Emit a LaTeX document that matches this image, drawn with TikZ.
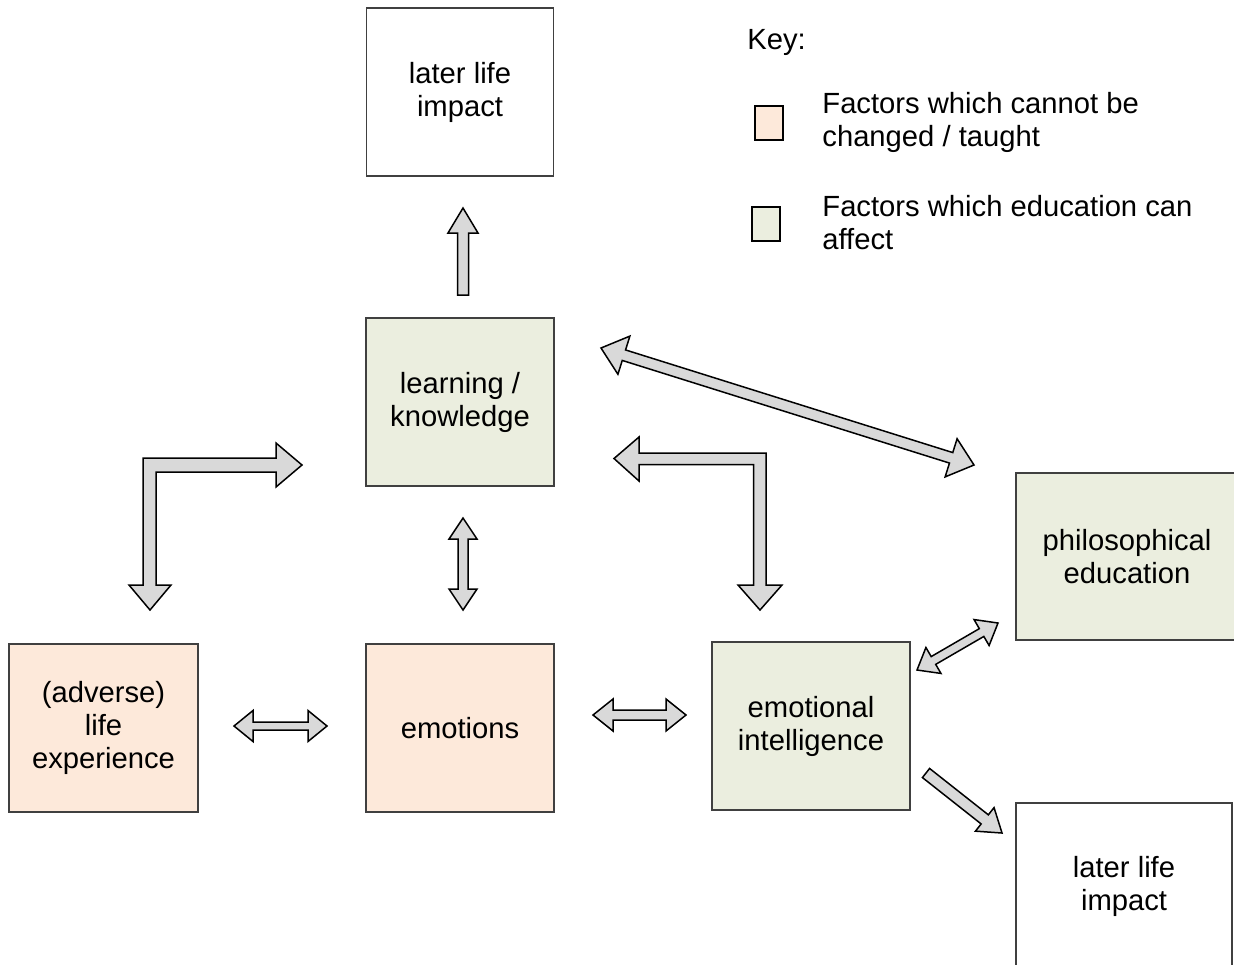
\documentclass[tikz,border=0pt]{standalone}
\usepackage{fontspec}
\setmainfont{Liberation Sans}
\usepackage{tikz}
\usetikzlibrary{calc}

\definecolor{peach}{HTML}{FDE9DA}
\definecolor{sage}{HTML}{EBEEDF}
\definecolor{arrowgrey}{HTML}{D9D9D9}

\tikzset{
  box/.style={draw=black!75,line width=0.6pt,align=center,inner sep=0pt,
    font=\fontsize{14.6}{16.5}\selectfont},
  keytext/.style={anchor=west,align=left,inner sep=0pt,font=\fontsize{14.6}{16.5}\selectfont},
  keybox/.style={draw=black,line width=1pt,inner sep=0pt},
  blockarrow/.style={draw=black,fill=arrowgrey,line width=0.75pt,line join=miter}
}

% block arrows: tail, tip, head length, head half width, shaft half width
\newcommand\sglarrow[5]{%
  \draw[blockarrow] ($(#1)!#5!90:(#2)$) -- ($(#2)!#3!(#1)!#5!-90:(#1)$)
    -- ($(#2)!#3!(#1)!#4!-90:(#1)$) -- (#2) -- ($(#2)!#3!(#1)!#4!90:(#1)$)
    -- ($(#2)!#3!(#1)!#5!90:(#1)$) -- ($(#1)!#5!-90:(#2)$) -- cycle;}
\newcommand\dblarrow[5]{%
  \draw[blockarrow] (#1) -- ($(#1)!#3!(#2)!#4!90:(#2)$) -- ($(#1)!#3!(#2)!#5!90:(#2)$)
    -- ($(#2)!#3!(#1)!#5!-90:(#1)$) -- ($(#2)!#3!(#1)!#4!-90:(#1)$) -- (#2)
    -- ($(#2)!#3!(#1)!#4!90:(#1)$) -- ($(#2)!#3!(#1)!#5!90:(#1)$)
    -- ($(#1)!#3!(#2)!#5!-90:(#2)$) -- ($(#1)!#3!(#2)!#4!-90:(#2)$) -- cycle;}

\begin{document}
\begin{tikzpicture}[x=0.5pt,y=-0.5pt]
\useasboundingbox (0,0) rectangle (1234,964);

% boxes
\node[box,minimum width=93.5pt,minimum height=84pt] (impacttop) at (460,92) {later life\\impact};
\node[box,fill=sage,minimum width=94pt,minimum height=84pt] (learning) at (460,402) {learning /\\knowledge};
\node[box,fill=peach,minimum width=94.5pt,minimum height=84pt] (adverse) at (103.5,728) {(adverse)\\life\\experience};
\node[box,fill=peach,minimum width=94pt,minimum height=84pt] (emotions) at (460,728) {emotions};
\node[box,fill=sage,minimum width=99pt,minimum height=84pt] (emoint) at (811,726) {emotional\\intelligence};
\node[box,fill=sage,minimum width=111pt,minimum height=83.5pt] (philo) at (1127,556.5) {philosophical\\education};
\node[box,minimum width=108pt,minimum height=83pt] (impactlow) at (1124,886) {later life\\impact};

% key
\node[keytext] (key) at (747,42) {Key:};
\node[keybox,fill=peach,minimum width=14pt,minimum height=17pt] (keyfixed) at (769,123) {};
\node[keybox,fill=sage,minimum width=14pt,minimum height=17pt] (keyedu) at (766,224) {};
\node[keytext] (keyfixedtxt) at (822,122) {Factors which cannot be\\changed / taught};
\node[keytext] (keyedutxt) at (822,223) {Factors which education can\\affect};

% arrow ends
\coordinate (upA) at (463,295);
\coordinate (upB) at (463,208);
\coordinate (vA) at (463,518);
\coordinate (vB) at (463,610);
\coordinate (hlA) at (234,726);
\coordinate (hlB) at (327,726);
\coordinate (hrA) at (593,715);
\coordinate (hrB) at (686,715);
\coordinate (dlA) at (601,348);
\coordinate (dlB) at (974,465);
\coordinate (dsA) at (917,670);
\coordinate (dsB) at (998,623);
\coordinate (doA) at (926,773);
\coordinate (doB) at (1002,833);

\sglarrow{upA}{upB}{12.5pt}{7.5pt}{2.75pt}
\dblarrow{vA}{vB}{10.5pt}{7pt}{2.5pt}
\dblarrow{hlA}{hlB}{9.5pt}{7.75pt}{2pt}
\dblarrow{hrA}{hrB}{10pt}{8pt}{2.5pt}
\dblarrow{dlA}{dlB}{12pt}{10pt}{2.75pt}
\dblarrow{dsA}{dsB}{9.5pt}{7.5pt}{2.25pt}
\sglarrow{doA}{doB}{11pt}{7.5pt}{2.9pt}

% bent arrows
\draw[blockarrow] (143,458) -- (276,458) -- (276,443) -- (302,465) -- (276,487) -- (276,472)
  -- (156,472) -- (156,585) -- (171,585) -- (150,610) -- (129,585) -- (143,585) -- cycle;
\draw[blockarrow] (766,453) -- (639,453) -- (639,437) -- (614,458.5) -- (639,481) -- (639,464.5)
  -- (753.5,464.5) -- (753.5,585) -- (738,585) -- (760,610) -- (782,585) -- (766,585) -- cycle;
\end{tikzpicture}
\end{document}
